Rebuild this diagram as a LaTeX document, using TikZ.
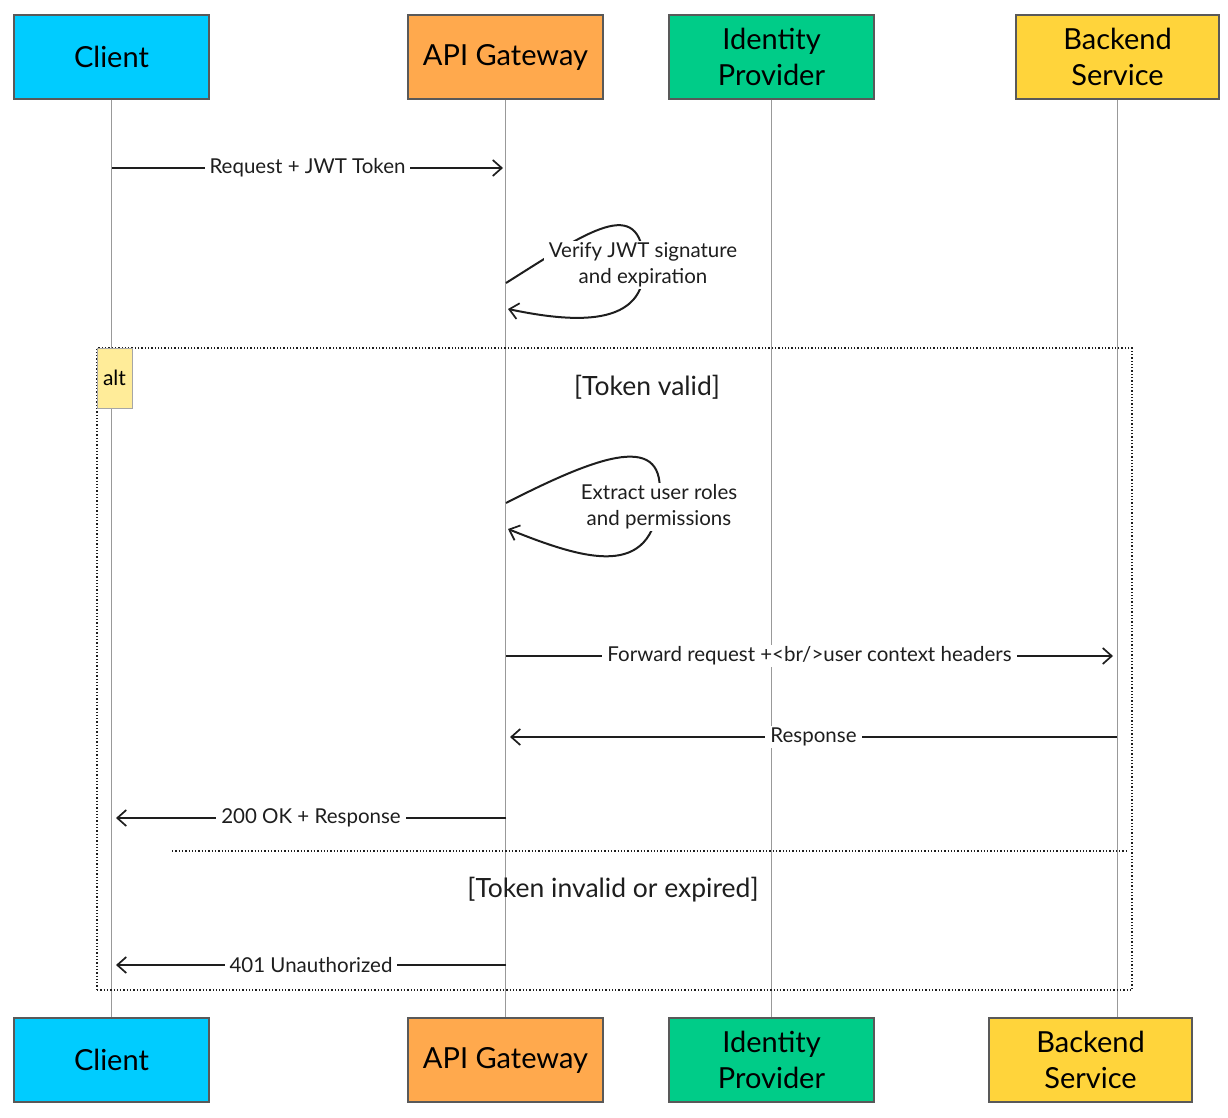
\documentclass[tikz,border=0pt]{standalone}
\usepackage{fontspec}
\setmainfont{Lato}
\usetikzlibrary{arrows.meta}
\definecolor{cliblue}{RGB}{0,204,255}
\definecolor{gworange}{RGB}{255,169,77}
\definecolor{idgreen}{RGB}{0,204,136}
\definecolor{beyellow}{RGB}{255,212,59}
\definecolor{altyellow}{RGB}{255,236,153}
\definecolor{ink}{RGB}{30,30,30}
\begin{document}
\begin{tikzpicture}[x=1pt, y=-1pt,
  actor/.style={draw=black!65, line width=1.2pt, minimum width=195, minimum height=84, align=center, font=\fontsize{29}{36}\selectfont},
  life/.style={draw=black!40, line width=1.4pt},
  msg/.style={draw=ink, line width=2pt, -{Straight Barb[length=9pt,width=16pt,line width=1.7pt]}},
  lbl/.style={fill=white, inner xsep=5pt, inner ysep=2pt, text=ink, font=\fontsize{20.5}{26}\selectfont, align=center},
  guard/.style={text=ink, font=\fontsize{26.5}{30}\selectfont},
  frame/.style={draw=ink, line width=1.3pt, dotted}]
\useasboundingbox (0,0) rectangle (1228,1118);

\node[actor, fill=cliblue] (cli0) at (111.5,57){Client};
\node[actor, fill=gworange] (gw0) at (505.5,57){API Gateway};
\node[actor, fill=idgreen, minimum width=205] (idp0) at (771.5,57){Identity\\Provider};
\node[actor, fill=beyellow, minimum width=203] (be0) at (1117.5,57){Backend\\Service};

\node[actor, fill=cliblue] (cli1) at (111.5,1060){Client};
\node[actor, fill=gworange] (gw1) at (505.5,1060){API Gateway};
\node[actor, fill=idgreen, minimum width=205] (idp1) at (771.5,1060){Identity\\Provider};
\node[actor, fill=beyellow, minimum width=203] (be1) at (1090.5,1060){Backend\\Service};

\draw[life](cli0) -- (cli1);
\draw[life](gw0) -- (gw1);
\draw[life](idp0) -- (idp1);
\draw[life](be0.south) -- (be0.south |- be1.north);

\node[frame, minimum width=1035, minimum height=642, inner sep=0pt] (altbox) at (614.5,669){};
\node[draw=black!35, fill=altyellow, line width=1pt, minimum width=35, minimum height=60, inner sep=0pt, font=\fontsize{21}{24}\selectfont] (alttag) at (114.5,378){alt};
\draw[frame] (172,851) -- (1128,851);

\coordinate (m1a) at (112,168);
\coordinate (m1b) at (503,168);
\draw[msg](m1a) -- node[lbl]{Request + JWT Token} (m1b);

\coordinate (s1a) at (506,283);
\coordinate (s1b) at (508,309);
\draw[msg](s1a) .. controls (590,230) and (640,195) .. (644,262) .. controls (648,330) and (570,322) .. (s1b);
\node[lbl] (s1t) at (643,265){Verify JWT signature\\and expiration};

\node[guard] (g1) at (647,387){[Token valid]};

\coordinate (s2a) at (506,503);
\coordinate (s2b) at (508,529);
\draw[msg](s2a) .. controls (600,455) and (668,430) .. (659,500) .. controls (652,580) and (585,560) .. (s2b);
\node[lbl] (s2t) at (659,507){Extract user roles\\and permissions};

\coordinate (m2a) at (506,656);
\coordinate (m2b) at (1113,656);
\draw[msg](m2a) -- node[lbl]{Forward request +<br/>user context headers} (m2b);

\coordinate (m3a) at (1117,737);
\coordinate (m3b) at (510,737);
\draw[msg](m3a) -- node[lbl]{Response} (m3b);

\coordinate (m4a) at (506,818);
\coordinate (m4b) at (116,818);
\draw[msg](m4a) -- node[lbl]{200 OK + Response} (m4b);

\node[guard] (g2) at (613,890){[Token invalid or expired]};

\coordinate (m5a) at (506,965);
\coordinate (m5b) at (116,965);
\draw[msg](m5a) -- node[lbl]{401 Unauthorized} (m5b);

\end{tikzpicture}
\end{document}
